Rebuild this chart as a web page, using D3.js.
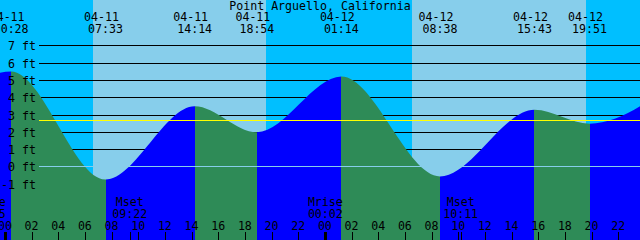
<!DOCTYPE html>
<html>
<head>
<meta charset="utf-8">
<script src="https://cdn.jsdelivr.net/npm/d3@7"></script>
<style>
  html, body { margin: 0; padding: 0; background: #fff; }
  svg { display: block; }
  text { font-family: "DejaVu Sans Mono", monospace; font-size: 11.6px; fill: #000; }
</style>
</head>
<body>
<div id="chart"></div>
<script>
const station = "Point Arguello, California";

// tide extremes (the first and last lie just outside the window)
const tideTimes = ["04-10 18:10", "04-11 00:28", "04-11 07:33", "04-11 14:14", "04-11 18:54",
                   "04-12 01:14", "04-12 08:38", "04-12 15:43", "04-12 19:51", "04-13 02:00"];
const tideHeights = [2.2, 5.5, -0.75, 3.49, 1.98, 5.2, -0.58, 3.28, 2.48, 4.7];

const sunTimes = ["04-11 06:35", "04-11 19:35", "04-12 06:34", "04-12 19:36"];
const sunEvents = ["rise", "set", "rise", "set"];

const moonTimes = ["04-10 22:45", "04-11 09:22", "04-12 00:02", "04-12 10:11"];
const moonEvents = ["Mrise", "Mset", "Mrise", "Mset"];

const footLevels = [-1, 0, 1, 2, 3, 4, 5, 6, 7];
const meanSeaLevel = 2.64;
const hourTicks = d3.range(0, 48, 2);

const windowStart = "04-10 23:38";
const windowEnd = "04-12 23:38";

const width = 640, height = 240;
const nightColor = "#00bfff", dayColor = "#87ceeb";
const fallColor = "#2e8b57", riseColor = "#0000ff";

// "MM-DD HH:MM" -> hours since 04-11 00:00
function hoursOf(s) {
    const [md, hm] = s.split(" ");
    const day = +md.slice(3) - 11;
    const [h, m] = hm.split(":").map(Number);
    return day * 24 + h + m / 60;
}

const x = d3.scaleLinear()
    .domain([hoursOf(windowStart), hoursOf(windowEnd)])
    .range([0, width]);
const y = d3.scaleLinear().domain([0, 7]).range([166, 45]);
const row = v => Math.ceil(y(v) - 0.01);

const svg = d3.select("#chart").append("svg")
    .attr("width", width)
    .attr("height", height);

// day / night bands
const sunH = sunTimes.map(hoursOf);
const edges = [x.domain()[0] - 10, ...sunH, x.domain()[1] + 10];
for (let i = 0; i < edges.length - 1; i++) {
    const isDay = i > 0 && sunEvents[i - 1] === "rise";
    svg.append("rect")
        .attr("x", x(edges[i]))
        .attr("y", 0)
        .attr("width", x(edges[i + 1]) - x(edges[i]))
        .attr("height", height)
        .attr("fill", isDay ? dayColor : nightColor)
        .attr("shape-rendering", "crispEdges");
}

// black foot lines (hidden under the water)
svg.selectAll("line.grid")
    .data(footLevels.filter(v => v !== 0))
    .join("line")
    .attr("class", "grid")
    .attr("x1", 39).attr("x2", width)
    .attr("y1", d => row(d) + 0.5).attr("y2", d => row(d) + 0.5)
    .attr("stroke", "#000").attr("stroke-width", 1);

// water area
const tide = tideTimes.map((t, i) => ({ t: hoursOf(t), h: tideHeights[i] }));
const area = d3.area()
    .curve(d3.curveMonotoneX)
    .x(d => x(d.t))
    .y0(height)
    .y1(d => y(d.h) + 0.5);

svg.append("clipPath").attr("id", "water")
    .append("path").attr("d", area(tide));

const water = svg.append("g").attr("clip-path", "url(#water)");
for (let i = 0; i < tide.length - 1; i++) {
    water.append("rect")
        .attr("x", x(tide[i].t))
        .attr("y", 0)
        .attr("width", x(tide[i + 1].t) - x(tide[i].t))
        .attr("height", height)
        .attr("fill", tide[i + 1].h < tide[i].h ? fallColor : riseColor)
        .attr("shape-rendering", "crispEdges");
}

// datum line and mean sea level
svg.append("line")
    .attr("x1", 39).attr("x2", width)
    .attr("y1", row(0) + 0.5).attr("y2", row(0) + 0.5)
    .attr("stroke", dayColor);
svg.append("line")
    .attr("x1", 39).attr("x2", width)
    .attr("y1", Math.round(y(meanSeaLevel)) + 0.5).attr("y2", Math.round(y(meanSeaLevel)) + 0.5)
    .attr("stroke", "#ffff00");

// foot labels
svg.selectAll("text.ft")
    .data(footLevels)
    .join("text")
    .attr("class", "ft")
    .attr("x", 36)
    .attr("y", d => row(d) + 4.5)
    .attr("text-anchor", "end")
    .text(d => (d < 0 ? "-" : "") + Math.abs(d) + " ft");

// title
svg.append("text")
    .attr("x", width / 2)
    .attr("y", 10)
    .attr("text-anchor", "middle")
    .text(station);

// high / low labels
const shown = tide.filter(d => x(d.t) > -30 && x(d.t) < width + 30);
shown.forEach((d, i) => {
    const src = tideTimes[tide.indexOf(d)].split(" ");
    svg.append("text")
        .attr("x", x(d.t) - 4)
        .attr("y", 21)
        .attr("text-anchor", "middle")
        .text(src[0]);
    svg.append("text")
        .attr("x", x(d.t))
        .attr("y", 33)
        .attr("text-anchor", "middle")
        .text(src[1]);
});

// moon events
moonTimes.forEach((m, i) => {
    const mx = x(hoursOf(m));
    svg.append("text")
        .attr("x", mx).attr("y", 206)
        .attr("text-anchor", "middle")
        .text(moonEvents[i]);
    svg.append("text")
        .attr("x", mx).attr("y", 218)
        .attr("text-anchor", "middle")
        .text(m.split(" ")[1]);
    svg.append("line")
        .attr("x1", Math.round(mx) + 0.5).attr("x2", Math.round(mx) + 0.5)
        .attr("y1", 232).attr("y2", height)
        .attr("stroke", "#000");
});

// hour ticks
svg.selectAll("line.tick")
    .data(hourTicks)
    .join("line")
    .attr("class", "tick")
    .attr("x1", d => Math.round(x(d)) + 0.5).attr("x2", d => Math.round(x(d)) + 0.5)
    .attr("y1", 232).attr("y2", height)
    .attr("stroke", "#000")
    .attr("stroke-width", d => d % 24 === 0 ? 3 : 1);

svg.selectAll("text.hr")
    .data(hourTicks)
    .join("text")
    .attr("class", "hr")
    .attr("x", d => x(d))
    .attr("y", 229.5)
    .attr("text-anchor", "middle")
    .text(d => String(d % 24).padStart(2, "0"));
</script>
</body>
</html>
